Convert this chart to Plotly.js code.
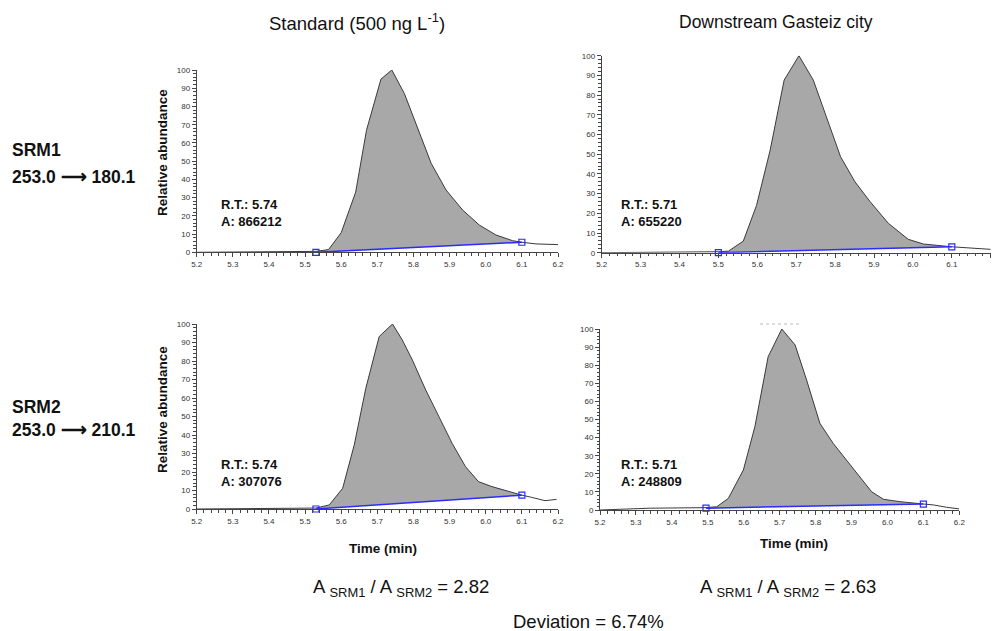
<!DOCTYPE html>
<html>
<head>
<meta charset="utf-8">
<script src="https://cdn.plot.ly/plotly-3.0.1.min.js"></script>
<style>html,body{margin:0;padding:0;background:#fff;}#chart{width:994px;height:631px;}</style>
</head>
<body>
<div id="chart"></div>
<script>
// ---- Data ----
const columnTitles = ["Standard (500 ng L<sup>-1</sup>)", "Downstream Gasteiz city"];
const rowNames = ["SRM1", "SRM2"];
const rowTransitions = ["253.0 \u27F6 180.1", "253.0 \u27F6 210.1"];

// Top-left: Standard, SRM1
const tlX = [5.20, 5.44, 5.53, 5.565, 5.60, 5.64, 5.67, 5.71, 5.74, 5.775, 5.821, 5.849, 5.89, 5.936, 5.982, 6.028, 6.074, 6.10, 6.139, 6.20];
const tlY = [0, 0.3, 0.5, 1.5, 10.8, 33, 67, 95, 100, 87, 63.4, 48.8, 34.2, 23.2, 15, 9.5, 6.4, 5.5, 4.6, 4.2];
const tlBaseX = [5.53, 6.10];
const tlBaseY = [0, 5.5];

// Top-right: Downstream, SRM1
const trX = [5.20, 5.49, 5.50, 5.526, 5.564, 5.598, 5.633, 5.669, 5.707, 5.744, 5.783, 5.814, 5.851, 5.890, 5.937, 5.988, 6.027, 6.10, 6.20];
const trY = [0, 0.3, 0.5, 0.8, 5.9, 24, 52, 87.6, 100, 87.6, 65.6, 48.7, 36, 25.9, 14.9, 6.8, 4.4, 3.0, 1.7];
const trBaseX = [5.50, 6.10];
const trBaseY = [0, 3.0];

// Bottom-left: Standard, SRM2
const blX = [5.20, 5.52, 5.53, 5.567, 5.604, 5.636, 5.668, 5.705, 5.742, 5.769, 5.797, 5.834, 5.870, 5.907, 5.944, 5.98, 6.017, 6.054, 6.10, 6.127, 6.164, 6.196];
const blY = [0, 0.3, 0.5, 2.2, 11.2, 34.6, 65.2, 93.2, 100, 91.4, 80.5, 64.3, 49.9, 35.5, 22.9, 14.8, 12.1, 9.9, 7.5, 6.3, 4.5, 5.2];
const blBaseX = [5.53, 6.10];
const blBaseY = [0, 7.5];

// Bottom-right: Downstream, SRM2
const brX = [5.20, 5.27, 5.34, 5.495, 5.525, 5.557, 5.599, 5.631, 5.668, 5.706, 5.743, 5.775, 5.812, 5.849, 5.886, 5.924, 5.956, 5.989, 6.035, 6.10, 6.128, 6.165, 6.20];
const brY = [0, 0.4, 1, 1.3, 1.8, 6.4, 22.1, 46, 84.7, 100, 91.2, 71.8, 47.9, 36.8, 27.6, 18.4, 10.1, 5.9, 4.6, 3.3, 2.8, 1.5, 0.6];
const brBaseX = [5.495, 6.10];
const brBaseY = [1.0, 3.3];

const retentionTimes = ["5.74", "5.71", "5.74", "5.71"];
const peakAreas = ["866212", "655220", "307076", "248809"];
const ratioValues = ["2.82", "2.63"];
const deviationText = "6.74%";

// ---- Build figure ----
const panels = [
  {x: tlX, y: tlY, bx: tlBaseX, by: tlBaseY, xa: 'x',  ya: 'y',  lx: 5.262, ly: 21.5},
  {x: trX, y: trY, bx: trBaseX, by: trBaseY, xa: 'x2', ya: 'y2', lx: 5.245, ly: 20.4},
  {x: blX, y: blY, bx: blBaseX, by: blBaseY, xa: 'x3', ya: 'y3', lx: 5.262, ly: 19.3},
  {x: brX, y: brY, bx: brBaseX, by: brBaseY, xa: 'x4', ya: 'y4', lx: 5.254, ly: 20.6}
];

const traces = [];
panels.forEach(p => {
  traces.push({x: p.bx, y: p.by, xaxis: p.xa, yaxis: p.ya, mode: 'lines',
    line: {width: 0, color: 'rgba(0,0,0,0)'}, hoverinfo: 'skip'});
  const fx = [], fy = [];
  p.x.forEach((v, i) => { if (v >= p.bx[0] - 1e-9 && v <= p.bx[1] + 1e-9) { fx.push(v); fy.push(p.y[i]); } });
  traces.push({x: fx, y: fy, xaxis: p.xa, yaxis: p.ya, mode: 'lines', fill: 'tonexty',
    fillcolor: '#a8a8a8', line: {width: 0, color: 'rgba(0,0,0,0)'}, hoverinfo: 'skip'});
  traces.push({x: p.x, y: p.y, xaxis: p.xa, yaxis: p.ya, mode: 'lines',
    line: {width: 1, color: '#3a3a3a'}, cliponaxis: false});
  traces.push({x: p.bx, y: p.by, xaxis: p.xa, yaxis: p.ya, mode: 'lines+markers',
    line: {width: 1.5, color: '#2b2bff'},
    marker: {symbol: 'square-open', size: 6, color: '#2b2bff', line: {width: 1.2}}, cliponaxis: false});
});

const TF = 'Arial, Liberation Sans, sans-serif';
const xCommon = {
  range: [5.2, 6.2], tick0: 5.2, dtick: 0.1, tickformat: '.1f',
  ticks: 'outside', ticklen: 4, tickwidth: 1, tickcolor: '#444',
  showline: true, linecolor: '#444', linewidth: 1, zeroline: false, showgrid: false,
  minor: {dtick: 0.02, ticks: 'outside', ticklen: 2.5, tickcolor: '#444', showgrid: false},
  tickfont: {family: TF, size: 8, color: '#333'}, fixedrange: true
};
const yCommon = {
  range: [0, 100], tick0: 0, dtick: 10,
  ticks: 'outside', ticklen: 4, tickwidth: 1, tickcolor: '#444',
  showline: true, linecolor: '#444', linewidth: 1, zeroline: false, showgrid: false,
  minor: {dtick: 2, ticks: 'outside', ticklen: 2.5, tickcolor: '#444', showgrid: false},
  tickfont: {family: TF, size: 8, color: '#333'}, fixedrange: true
};

const W = 994, H = 631;
const px = v => v / W;
const py = v => 1 - v / H;
const F = 'Arial, Liberation Sans, sans-serif';

const annotations = [];
annotations.push({text: columnTitles[0], x: px(357), y: py(22), xref: 'paper', yref: 'paper', showarrow: false,
  xanchor: 'center', yanchor: 'middle', font: {family: F, size: 18.5, color: '#111'}});
annotations.push({text: columnTitles[1], x: px(776), y: py(22), xref: 'paper', yref: 'paper', showarrow: false,
  xanchor: 'center', yanchor: 'middle', font: {family: F, size: 17.5, color: '#111'}});
const rowY = [[150, 177], [407, 430]];
rowNames.forEach((n, i) => {
  annotations.push({text: '<b>' + n + '</b>', x: px(10), y: py(rowY[i][0]), xref: 'paper', yref: 'paper', showarrow: false,
    xanchor: 'left', yanchor: 'middle', font: {family: F, size: 17.5, color: '#111'}});
  annotations.push({text: '<b>' + rowTransitions[i] + '</b>', x: px(10), y: py(rowY[i][1]), xref: 'paper', yref: 'paper', showarrow: false,
    xanchor: 'left', yanchor: 'middle', font: {family: F, size: 17.5, color: '#111'}});
});
[[162, 153], [162, 410]].forEach(c => {
  annotations.push({text: '<b>Relative abundance</b>', x: px(c[0]), y: py(c[1]), xref: 'paper', yref: 'paper', showarrow: false,
    textangle: -90, xanchor: 'center', yanchor: 'middle', font: {family: F, size: 13.5, color: '#111'}});
});
[[383, 548], [794, 543]].forEach(c => {
  annotations.push({text: '<b>Time (min)</b>', x: px(c[0]), y: py(c[1]), xref: 'paper', yref: 'paper', showarrow: false,
    xanchor: 'center', yanchor: 'middle', font: {family: F, size: 13.5, color: '#111'}});
});
panels.forEach((p, i) => {
  annotations.push({text: '<b>R.T.: ' + retentionTimes[i] + '<br>A: ' + peakAreas[i] + '</b>',
    x: p.lx, y: p.ly, xref: p.xa, yref: p.ya, showarrow: false, align: 'left',
    xanchor: 'left', yanchor: 'middle', font: {family: F, size: 13, color: '#111'}});
});
[[401, 588], [788, 588]].forEach((c, i) => {
  annotations.push({text: 'A <sub>SRM1</sub> / A <sub>SRM2</sub> = ' + ratioValues[i], x: px(c[0]), y: py(c[1]),
    xref: 'paper', yref: 'paper', showarrow: false, xanchor: 'center', yanchor: 'middle',
    font: {family: F, size: 18.5, color: '#111'}});
});
annotations.push({text: 'Deviation = ' + deviationText, x: px(588), y: py(621), xref: 'paper', yref: 'paper',
  showarrow: false, xanchor: 'center', yanchor: 'middle', font: {family: F, size: 18.5, color: '#111'}});

const layout = {
  width: W, height: H, margin: {l: 0, r: 0, t: 0, b: 0},
  paper_bgcolor: '#fff', plot_bgcolor: 'rgba(0,0,0,0)', showlegend: false,
  xaxis:  Object.assign({}, xCommon, {domain: [px(196.7), px(558)], anchor: 'y'}),
  yaxis:  Object.assign({}, yCommon, {domain: [py(252.3), py(70)], anchor: 'x'}),
  xaxis2: Object.assign({}, xCommon, {domain: [px(601.7), px(990.7)], anchor: 'y2'}),
  yaxis2: Object.assign({}, yCommon, {domain: [py(252.7), py(55.7)], anchor: 'x2'}),
  xaxis3: Object.assign({}, xCommon, {domain: [px(196.7), px(558)], anchor: 'y3'}),
  yaxis3: Object.assign({}, yCommon, {domain: [py(509), py(324)], anchor: 'x3'}),
  xaxis4: Object.assign({}, xCommon, {domain: [px(600), px(959.3)], anchor: 'y4'}),
  yaxis4: Object.assign({}, yCommon, {domain: [py(510), py(329)], anchor: 'x4'}),
  shapes: [
    {type: 'line', xref: 'paper', yref: 'paper', x0: px(760), x1: px(802), y0: py(324), y1: py(324),
     line: {color: '#bbbbbb', width: 1, dash: 'dot'}}
  ],
  annotations: annotations
};

Plotly.newPlot('chart', traces, layout, {displayModeBar: false, staticPlot: true});
</script>
</body>
</html>
